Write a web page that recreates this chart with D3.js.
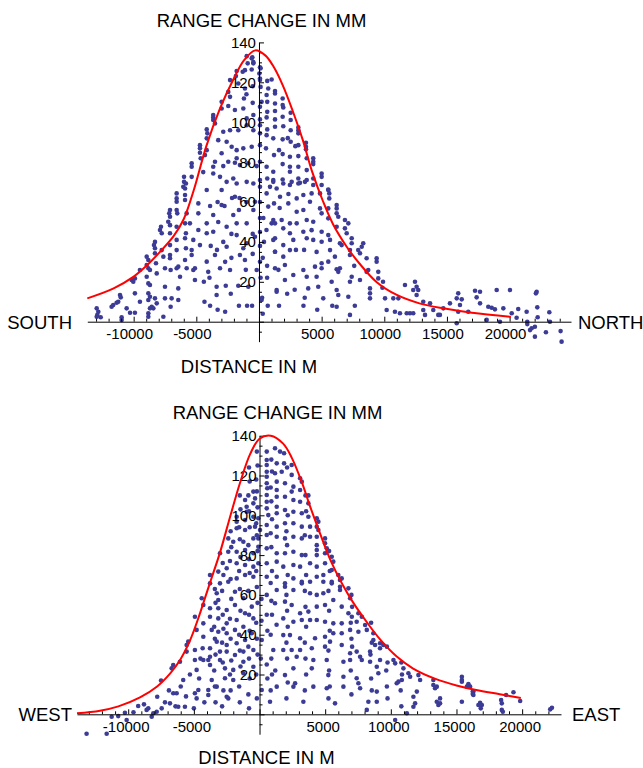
<!DOCTYPE html>
<html>
<head>
<meta charset="utf-8">
<script src="https://cdn.jsdelivr.net/npm/d3@7"></script>
<style>
body { margin: 0; background: #fff; }
svg { display: block; font-family: 'Liberation Sans', Arial, Helvetica, sans-serif; }
</style>
</head>
<body>
<svg id="chart" width="643" height="768"></svg>
<script>
// tick labels
const xTickLabels = [-10000, -5000, 5000, 10000, 15000, 20000];
const yTickLabels = [20, 40, 60, 80, 100, 120, 140];

// north-south profile: measured points [distance m, range change mm]
const northSouthPoints = [
    [-12950,6.7],[-12820,5],[-12950,2.5],[-12630,2.2],[-12900,3.4],[-11630,8.4],[-11760,7.5],[-11360,9.5],[-11090,13.4],[-11030,12.2],[-11230,10],[-10960,2.2],[-10960,0.9],
    [-10560,6.7],[-10290,4.5],[-9900,4.5],[-10160,20.9],[-9900,21.7],[-10030,20],[-9900,14.2],[-9500,25.9],[-9500,10],[-8960,32.6],[-8830,30.9],
    [-8960,28.4],[-8830,26.8],[-8700,25.9],[-8960,22.5],[-8830,19.2],[-8700,18.4],[-8830,14.2],[-8700,12.5],[-8830,10.9],[-8560,7.5],[-8700,6.7],
    [-8830,4.2],[-8830,2.5],[-8300,40],[-8380,38.4],[-8300,36.8],[-8300,34.3],[-8220,29.3],[-8160,24.2],[-8300,11.7],[-8430,6.7],[-8160,9.2],
    [-7760,44.3],[-7900,46],[-7820,47.6],[-7760,35.9],[-7630,32.6],[-7500,26.8],[-7500,17.5],[-7500,11.7],[-7630,2.5],[-7100,56],[-7160,54.3],
    [-7100,52.6],[-7240,50.1],[-7100,48.4],[-7100,44.3],[-7100,38.4],[-7100,33.4],[-7100,31.8],[-7050,25.9],[-6970,11.7],[-7050,7.5],[-6570,64.3],
    [-6570,61.8],[-6570,60.1],[-6570,56],[-6520,54.3],[-6570,47.6],[-6570,41],[-6570,35.9],[-6440,27.6],[-6570,26.8],[-6300,22.5],[-6440,16.7],
    [-6440,10.9],[-5830,69.3],[-5900,66.8],[-5900,63.5],[-5900,61],[-5770,54.3],[-5900,49.3],[-5830,44.3],[-5900,41.8],[-5830,36.8],[-5900,30.9],
    [-5770,26.8],[-5110,26.8],[-5240,25.9],[-5110,20.9],[-5510,49.3],[-5240,41],[-5370,35.9],[-5370,33.4],[-4840,59.3],[-4840,54.3],[-4840,46],
    [-4710,38.4],[-4170,66],[-4170,49.3],[-4170,44.3],[-4170,30.1],[-4050,25],[-3650,53.5],[-3650,45.1],[-3510,33.4],[-3380,17.5],[-3380,13.4],
    [-2980,66],[-2980,58.5],[-2850,40],[-3110,26.8],[-2580,47.6],[-2580,37.6],[-2310,25.9],[-1920,62.6],[-2050,53.5],[-1780,49.3],[-1780,43.4],
    [-1520,33.4],[-1250,36.8],[-1120,30.9],[-980,39.3],[-980,49.3],[-850,17.5],[-450,56],[-320,60.1],[-320,42.6],[-180,25.9],[210,10.9],[610,64.3],
    [740,57.7],[1010,49.3],[1140,41],[1280,35.1],[1410,15.9],[80,60],[80,52],[80,45],[80,38],[80,30],[130,22],[650,22],[700,8],[-500,34],[400,40],
    [-980,133.1],[-530,132.5],[-900,129.5],[-450,130.1],[-580,126.4],[-1300,125.3],[-1780,125.7],[-1840,123.1],[-2310,121.1],[80,127.5],[30,124.4],
    [80,121.9],[-1650,119.4],[-2450,115.2],[-2310,112.7],[-1200,111.9],[-500,109.7],[-1250,106.9],[-1920,106.1],[-2450,108.1],[-2980,110.2],
    [-2980,106.9],[-3650,103.6],[-3650,102.4],[-3650,101.1],[-3510,99.4],[-4170,96.4],[-4120,94.4],[-4170,91.9],[-4710,88.5],[-4710,86.9],
    [-4710,84.7],[-4650,81.9],[-5370,79.4],[-5370,77.7],[-5370,72.6],[-5980,72.6],[-5980,70.1],[-6040,67.6],[-2180,87.7],[-1780,86],[-1250,86.9],
    [-580,87.7],[-1780,81.9],[-1920,79.7],[-1520,78.5],[-850,79.4],[-180,78],[-2450,80.2],[-2850,78],[-3510,80.2],[-3650,77.7],[-3650,74.3],
    [-3110,72.6],[-2580,70.1],[-2050,71.8],[-1780,69.3],[-980,70.1],[-450,69.3],[80,67.6],[-4310,83.5],[-4170,86],[-2980,84.4],[-2310,96],
    [-1650,96],[-980,98.5],[-2850,95.2],[-3250,91],[-2580,90.2],[-450,103.6],[-980,101.9],
    [-580,132],[-450,129.5],[130,127],[660,120.7],[1010,121.4],[80,121.1],[130,117.7],[740,116.9],[1280,115.6],[1280,114.4],[610,113.6],[210,110.2],
    [80,107.7],[660,110.2],[1280,109.4],[1890,111.9],[1890,108.6],[1940,107.4],[2530,104.7],[1280,105.6],[660,105.2],[80,101.4],[610,102.4],
    [1280,101.4],[1890,102.7],[2530,101.1],[80,98.5],[660,96.4],[1280,97.7],[1940,98],[2530,96],[3140,97.4],[3140,96],[3140,94.4],[80,94.4],
    [610,93.5],[1140,91.9],[1890,91.4],[2530,90.2],[3140,88.5],[3750,89.7],[3750,87.7],[3750,86.4],[80,88.5],[560,86.9],[1200,83.5],[1890,84],
    [2470,82.7],[3140,83],[3810,81.9],[4330,81.9],[4330,80.2],[4330,79],[80,80.2],[610,77.7],[1140,75.2],[1890,79],[2470,77.7],[3140,77.7],
    [3810,76],[5000,74.3],[5000,72.6],[4330,71.8],[3810,71],[3140,71.8],[2470,75.2],[2470,68.5],[1890,71.3],[1140,71],[660,71.8],[80,71],
    [880,67.6],[3270,69.6],[5530,66.3],[-1120,126.1],[-1120,116.9],
    [1140,70.1],[1410,66.8],[1940,69.3],[2610,70.1],[3140,69.3],[3670,70.1],[4330,68.5],[5000,68.5],[5530,66],[5610,64.3],[5610,61.8],[6200,58.5],
    [6200,56.8],[6200,54.3],[6330,52.6],[7130,49.3],[6860,46.8],[7000,44.3],[7400,41.8],[7400,39.3],[8320,39.3],[8200,37.6],[7260,35.9],[7260,33.4],
    [7920,35.9],[8590,31.8],[8060,34.3],[9390,31.8],[9390,30.1],[8720,25.9],[8590,25],[9520,25],[9520,21.7],[8860,16.7],[8860,11.7],[8060,20.9],
    [7400,22.5],[7260,20],[6460,26.8],[6200,26.3],[6330,25],[6060,32.6],[5670,35.9],[5530,30.1],[5000,29.3],[5000,26.8],[4470,27.6],[4600,22.5],
    [3540,25.9],[3810,22.5],[2070,28.4],[2070,20.9],[1410,15],[2740,23.4],[2470,35.9],[1280,35.1],[1940,32.6],[1280,26.8],[1140,51],[1280,41.8],
    [1940,38.4],[1940,46.8],[2470,44.3],[3010,49.3],[3540,45.1],[4200,45.9],[5000,45.1],[5530,43.4],[5670,41],[5000,40.1],[4330,41],[3810,41.8],
    [2740,41],[3010,55.1],[3540,56],[3810,51],[4330,50.1],[5000,54.3],[4870,56.8],[5530,56.8],[4070,60.1],[3540,63.5],[3010,61.8],[2340,59.3],
    [1680,62.6],[1200,59.3],[2470,49.3],[1280,49.3],[1810,51],[4200,64.3],[4870,64.3],[5530,51.8],[6200,47.6],[6860,51],[6460,39.3],[6600,38.4],
    [3930,16.7],[4730,17.5],[5130,11.7],[6200,15.9],[6330,13.4],[7130,12.5],[7260,3.4],[6200,7.5],[8860,14.2],[10060,11.7],[10190,5.9],[10720,11.7],
    [11120,11.7],[10850,5],[11250,4.2],[11650,18.4],[11790,4.2],[12050,4.2],[12310,4.2],[12310,15.9],[12450,20],[12580,17.5],[12710,15.9],
    [12580,13.4],[13110,10],[13110,5.9],[13250,3.4],[13650,9.2],[13910,5.9],[14310,3.4],[14710,6.7],[15240,9.2],[15900,14.2],[15780,11.7],
    [16180,11.2],[16040,8.4],[15780,-0.8],[16700,5],
    [14440,3.4],[17240,15.5],[17370,12.2],[17640,15],[17640,9.2],[15900,5],[18170,0.9],[18300,7.5],[18570,7],[18830,6.2],[18970,15.9],[19230,0],
    [19500,6.7],[20030,15.9],[20170,4.2],[20690,6.4],[20560,2],[21360,5],[21410,0],[21410,-1.2],[21630,-4.2],[21760,-3.3],[22020,-2.5],[22020,-7.5],
    [22160,15],[22100,14.2],[22210,7.2],[22240,2.2],[22900,-5.3],[23170,4.7],[23220,0],[24070,-4.7],[24150,-10],
    [-4400,20],[-4350,10],[-4450,75],[-3900,58],[-3850,38],[-3950,22],[-3900,8],[-3300,60],[-3250,50],[-3350,36],[-3300,6],[-2700,30],[-2750,58],
    [-2650,18],[-2700,5],[-2200,44],[-2250,14],[-2150,62],[-2200,32],[-1600,56],[-1650,18],[-1550,62],[-1600,8],[-1000,60],[-1050,26],[-950,8],
    [-1000,114],[-500,44],[-550,8],[-450,96],[-500,118],[300,32],[350,52],[250,12],[300,4],[600,46],[650,28],[1600,86],[1650,57],[1550,26],
    [1600,8],[2300,92],[2350,64],[2250,14],[2900,88],[2950,36],[2850,16],[3600,36],[3650,12],[3550,8],[4600,35],[4650,6],[5800,20],[5850,8],
    [7600,28],[7650,8],[9900,20],[9850,17]
];

// north-south fitted curve
const northSouthCurve = [
    [-13700,11.7],[-11600,16.7],[-10000,22.6],[-9000,27.9],[-7900,35],[-6800,43],[-6000,51.5],[-5200,66],[-4200,88],[-3100,107],
    [-2000,122],[-1200,131],[-300,136],[500,133.5],[1100,128.5],[1900,118.5],[2700,105.5],[3500,91],[4200,76],[5100,60.5],[5900,49],[7000,37.6],
    [8000,29.3],[9400,19.8],[11000,13.4],[12800,9.2],[14700,6.7],[17000,4.5],[20100,2.5]
];

// west-east profile: measured points [distance m, range change mm]
const westEastPoints = [
    [-13170,-9.8],[-11640,-9.8],[-11260,-1.2],[-10760,-0.9],[-10120,-2.9],[-10250,0.8],[-9240,4.2],[-8600,2.2],[-8470,3],[-8210,-1.2],[-8090,0.5],
    [-7830,1.3],[-7790,8.8],[-7450,3],[-6820,5.5],[-6570,10.6],[-6310,10.6],[-6690,23.1],[-6570,24.8],[-6190,3.8],[-6060,26.4],[-5810,17.2],
    [-5680,3.8],[-5550,31.5],[-5430,36.5],[-5550,34.8],[-4920,27.3],[-4790,22.3],[-4920,32.3],[-4920,49],[-4790,42.4],[-4790,8],[-4920,10.6],
    [-4660,12.2],[-4400,58.3],[-4280,54.9],[-4280,45.7],[-4280,39],[-4330,33.2],[-4280,27.3],[-3900,27.3],[-3770,33.2],[-3770,28.9],[-3770,24.8],
    [-3900,12.2],[-3900,9.7],[-3640,17.2],[-3260,13.9],[-3770,53.3],[-3770,49],[-3640,42.4],[-3260,60.8],[-3140,57.4],[-3140,53.3],[-3140,48.2],
    [-3140,41.5],[-3260,36.5],[-3010,31.5],[-3010,27.3],[-2500,52.4],[-2500,45.7],[-2500,40.7],[-2500,34.8],[-2500,31.5],[-2630,23.1],[-2630,18.1],
    [-2500,8.8],[-2380,8],[-1870,61.6],[-1870,54.9],[-1740,47.4],[-1870,42.4],[-1740,35.7],[-1870,29.8],[-2000,22.3],[-2000,17.2],[-1230,58.3],
    [-1100,50.8],[-1230,44],[-1100,37.3],[-1230,31.5],[-1230,26.4],[-1230,20.6],[-590,54.1],[-470,48.2],[-590,40.7],[-470,32.3],[-470,23.9],
    [170,12.2],[170,37.3],[800,6.3],[1050,32.3],[1310,13.9],[1180,55.8],[1310,62.5],[550,60],[550,50],[600,42],[550,25],[1300,45],[1200,22],
    [600,18],[150,58],[150,47],[100,28],
    [550,132],[1180,133.7],[1560,132],[1870,131.2],[550,127.8],[550,125.3],[1310,126.1],[1870,126.1],[2450,125.3],[550,121.9],[550,119.4],
    [1180,121.1],[1690,121.9],[2450,120.3],[3090,118.6],[3220,116.9],[550,116.1],[590,113.6],[1310,116.9],[1310,112.7],[1940,116.1],[2580,114.4],
    [2450,111.9],[3090,112.7],[3720,110],[-470,111.9],[-340,108.5],[-470,106],[550,110.2],[550,106.8],[1310,109.3],[1940,109.3],[2580,107.7],
    [3090,106.8],[3720,106],[-1100,107.7],[-980,104.3],[-980,101.8],[-1740,99.3],[-1740,96.8],[-1100,97.6],[-470,99.3],[-90,98.5],[550,103.5],
    [670,100.1],[1310,104.3],[1310,101],[1940,102.7],[2580,101.8],[3220,101],[3720,99.3],[-1740,93.5],[-1100,92.6],[-340,94.3],[40,92.6],
    [550,95.1],[1310,94.3],[1940,96],[2580,96],[3220,94.3],[3850,94.3],[-2380,88.4],[-2000,86.7],[-1230,86.7],[-470,88.4],[-90,88.4],[550,90.1],
    [1310,89.2],[1940,88.4],[2580,89.2],[3220,88.4],[3850,89.2],[-3010,80.9],[-2380,81.7],[-1740,81.7],[-1100,82.6],[-470,80.9],[-90,84.2],
    [550,83.4],[1310,80.9],[1940,80.9],[2580,81.7],[3220,80],[-3770,70],[-3140,71.7],[-2500,73.4],[-1740,75.9],[-1100,75],[-470,74.2],[-90,75.9],
    [550,75.9],[1310,76.7],[1810,74.2],[2580,75],[3090,74.2],[3850,75.9],[-3770,65.8],[-3010,65.8],[-2380,66.6],[-1740,68.3],[-1100,70],[-470,69.1],
    [550,69.1],[1310,69.1],[1940,65.8],[2580,68.3],[3220,65.8],[3850,66.6],
    [4360,98.5],[4480,96.8],[4360,94.3],[4480,92.6],[4360,89.2],[4990,88.4],[4990,85.9],[5120,83.4],[4360,85],[4360,82.6],[4360,80],[4990,80.9],
    [5500,79.2],[5620,76.7],[4360,74.2],[4990,75.9],[5500,72.5],[6000,70],[6130,67.5],[4360,69.1],[4860,70],[4860,66.6],[5500,65.8],[6130,64.1],
    [6260,68.3],
    [1940,64.1],[2580,62.5],[3220,66.6],[3850,60.8],[4360,60],[4860,60.8],[5500,66.6],[6130,62.5],[6770,63.3],[6900,58.3],[6260,54.1],[5620,57.4],
    [4990,54.9],[4360,54.1],[3720,51.6],[3090,50.8],[2450,54.9],[1940,56.6],[1810,48.2],[2580,46.5],[3220,47.4],[3850,47.4],[4360,47.4],[4990,46.5],
    [5620,45.7],[6260,45.7],[6770,50.8],[7030,49],[7530,50.8],[7790,49],[7400,46.5],[6900,42.4],[6260,40.7],[5620,40.7],[4990,39],[4230,38.2],
    [3090,38.2],[1810,39.8],[2320,39.8],[7530,41.5],[8040,44.9],[8170,42.4],[8670,40.7],[8670,37.3],[8800,34.8],[9180,35.7],[9180,33.2],[9430,34.8],
    [8420,31.5],[7660,28.9],[6900,30.7],[6260,34.8],[5370,36.5],[4990,34],[3980,33.2],[3090,32.3],[2450,32.3],[1810,32.3],[2830,28.9],[4100,27.3],
    [5120,27.3],[6390,26.4],[6900,27.3],[7790,27.3],[8420,26.4],[9180,27.3],[8930,23.9],[10200,27.3],[10330,25.6],[10960,23.1],[11340,20.6],
    [11470,18.9],[10450,15.6],[10580,16.4],[10840,17.2],[12100,19.7],[12230,17.2],[13240,17.2],[13240,14.7],[13370,13.1],[13500,13.9],[15410,18.9],
    [15410,17.2],[15910,14.7],[16290,11.4],[16290,9.7],[16670,4.7],[1940,19.7],[2580,23.1],[2710,15.6],[2580,13.9],[3980,23.1],[4100,13.9],
    [5240,19.7],[5120,13.1],[6390,18.9],[6390,13.9],[7400,18.1],[7530,15.6],[7660,13.1],[8290,6.3],[8170,2.2],[8930,11.4],[8930,6.3],[7400,31.5],
    [9050,20.6],[5750,5.5],[3340,6.3],[10330,-2.9],[11220,0.5],[11720,8.8],[11850,5.5],[11720,3.8],[11980,11.4],[13620,4.7],[13500,6.3],[15410,6.3],
    [15790,13.9],
    [13750,5.5],[13750,8],[15410,16.4],[15910,15.2],[16040,13.9],[16240,11.4],[16240,10.2],[16800,5.8],[16930,4.7],[16850,3],[18400,7.2],
    [18450,5.5],[18450,2.2],[18530,1.3],[18780,9.7],[19340,11.1],[19850,6.7],[22140,2.5],[22270,3.3],
    [-3400,63],[-3350,56],[-3450,44],[-3400,38],[-3350,30],[-3450,22],[-3400,14],[-3350,6],
    [-2800,76],[-2750,70],[-2850,62],[-2800,50],[-2750,43],[-2850,36],[-2800,26],[-2750,12],[-2850,4],
    [-2200,92],[-2150,84],[-2250,77],[-2200,68],[-2150,58],[-2250,48],[-2200,38],[-2150,27],[-2250,20],[-2200,12],
    [-1500,110],[-1450,103],[-1550,94],[-1500,88],[-1450,79],[-1550,72],[-1500,63],[-1450,52],[-1550,40],[-1500,32],[-1450,24],[-1550,14],[-1500,6],
    [-800,124],[-750,117],[-850,110],[-800,102],[-750,94],[-850,85],[-800,78],[-750,71],[-850,62],[-800,50],[-750,42],[-850,34],[-800,28],[-750,18],[-850,10],[-800,3],
    [-200,132],[-150,125],[-250,118],[-200,112],[-150,104],[-250,96],[-200,90],[-150,82],[-250,72],[-200,64],[-150,56],[-250,46],[-200,38],[-150,30],[-250,20],[-200,8],
    [900,128],[950,122],[850,114],[900,107],[950,98],[850,91],[900,84],[950,72],[850,66],[900,57],[950,50],[850,40],[900,28],[950,20],[850,12],
    [2100,124],[2150,100],[2050,92],[2100,85],[2150,70],[2050,60],[2100,52],[2150,44],[2050,36],[2100,28],[2150,16],[2050,8],
    [3500,110],[3550,102],[3450,90],[3500,80],[3550,70],[3450,62],[3500,54],[3550,44],[3450,36],[3500,28],[3550,20],[3450,12],
    [5300,82],[5350,72],[5250,62],[5300,52],[5350,42],[5250,32],[5300,22],[5350,14],[5250,8],
    [7000,60],[7050,54],[6950,46],[7000,38],[7050,34],[6950,22],[7000,10],
    [8500,46],[8550,36],[8450,30],[8500,18],[8550,12],[9700,34],[9750,26],[9650,22],[9700,14],[9750,8],[10800,26],[10850,20],[10750,12],[10800,4],
    [-7200,6],[-6900,12],[-6400,4],[-6000,14],[-5600,9],[-5300,20],[-5000,3],[-4600,18],[-4500,28],[-4200,6],[-8800,5],[-9600,1],[-7500,17]
];

// west-east fitted curve
const westEastCurve = [
    [-13900,0.5],[-12150,1.8],[-10750,4],[-9100,8.5],[-7800,14],[-6800,20.6],[-6050,27.3],[-5300,37],[-4650,48.5],[-4150,58.5],[-3700,67.5],
    [-3000,81.5],[-2250,99],[-1500,116],[-700,131],[0,138.5],[850,140],[1800,136],[2450,129],[3200,117],[3850,104.5],[4600,91],[5400,77.5],
    [6300,65.5],[7100,56.5],[8150,46.5],[9200,37.5],[10450,29],[11700,23],[13400,17.8],[15000,14.5],[16500,12.2],[18300,10.1],[19900,8.2]
];

class ProfilePanel {
    constructor(config, points, curve) {
        this.config = {
            parent: config.parent,
            xDomain: config.xDomain,
            xRange: config.xRange,
            yDomain: config.yDomain,
            yRange: config.yRange,
            labelShift: config.labelShift || 0,
            yTitle: config.yTitle,
            xTitle: config.xTitle,
            leftLabel: config.leftLabel,
            rightLabel: config.rightLabel
        };
        this.points = points;
        this.curve = curve;
        this.init();
    }

    init() {
        let self = this;
        self.chart = d3.select(self.config.parent).append('g');
        self.xScale = d3.scaleLinear().domain(self.config.xDomain).range(self.config.xRange);
        self.yScale = d3.scaleLinear().domain(self.config.yDomain).range(self.config.yRange);
        self.line = d3.line()
            .x(d => self.xScale(d[0]))
            .y(d => self.yScale(d[1]))
            .curve(d3.curveCatmullRom.alpha(0.5));
        self.render();
    }

    render() {
        let self = this;
        const x0 = self.xScale(0), y0 = self.yScale(0);

        // dots
        self.chart.append('g')
            .selectAll('circle')
            .data(self.points)
            .join('circle')
            .attr('cx', d => self.xScale(d[0]))
            .attr('cy', d => self.yScale(d[1]))
            .attr('r', 2.3)
            .attr('fill', '#3c3c96');

        // x axis: line + ticks pointing up, minor every 1000
        const xAxis = d3.axisBottom(self.xScale)
            .tickValues(d3.range(Math.ceil(self.config.xDomain[0] / 1000) * 1000, self.config.xDomain[1], 1000))
            .tickSizeInner(-3)
            .tickSizeOuter(0)
            .tickFormat('');
        const gx = self.chart.append('g')
            .attr('transform', `translate(0,${y0})`)
            .call(xAxis);
        gx.selectAll('.tick line').attr('y2', d => d % 5000 === 0 ? -5 : -3);
        gx.select('.domain').attr('stroke', '#000');
        gx.selectAll('line').attr('stroke', '#000');

        self.chart.append('g')
            .selectAll('text')
            .data(xTickLabels)
            .join('text')
            .attr('x', d => self.xScale(d) + self.config.labelShift)
            .attr('y', y0 + 17.5)
            .attr('text-anchor', 'middle')
            .attr('font-size', '15px')
            .text(d => d < 0 ? '-' + Math.abs(d) : d);

        // y axis
        const yAxis = d3.axisLeft(self.yScale)
            .tickValues(d3.range(-5, 141, 5))
            .tickSizeInner(-3)
            .tickSizeOuter(0)
            .tickFormat('');
        const gy = self.chart.append('g')
            .attr('transform', `translate(${x0},0)`)
            .call(yAxis);
        gy.selectAll('.tick line').attr('x2', d => d % 20 === 0 ? 5 : 3);
        gy.select('.domain').attr('stroke', '#000');
        gy.selectAll('line').attr('stroke', '#000');

        self.chart.append('g')
            .selectAll('text')
            .data(yTickLabels)
            .join('text')
            .attr('x', x0 - 3)
            .attr('y', d => self.yScale(d))
            .attr('dy', '0.36em')
            .attr('text-anchor', 'end')
            .attr('font-size', '15px')
            .text(d => d);

        // fitted curve
        self.chart.append('path')
            .datum(self.curve)
            .attr('d', self.line)
            .attr('fill', 'none')
            .attr('stroke', '#ff0000')
            .attr('stroke-width', 2);

        // titles
        const t = self.config;
        [t.yTitle, t.xTitle, t.leftLabel, t.rightLabel].forEach(lab => {
            self.chart.append('text')
                .attr('x', lab.x)
                .attr('y', lab.y)
                .attr('text-anchor', lab.anchor)
                .attr('font-size', '18.5px')
                .text(lab.text);
        });
    }
}

new ProfilePanel({
    parent: '#chart',
    xDomain: [-13700, 24900],
    xRange: [87.3, 571.0],
    yDomain: [-10, 140],
    yRange: [341.65, 42.4],
    labelShift: -4,
    yTitle: { text: 'RANGE CHANGE IN MM', x: 261.5, y: 27, anchor: 'middle' },
    xTitle: { text: 'DISTANCE IN M', x: 249, y: 373, anchor: 'middle' },
    leftLabel: { text: 'SOUTH', x: 72, y: 328.5, anchor: 'end' },
    rightLabel: { text: 'NORTH', x: 578, y: 328.5, anchor: 'start' }
}, northSouthPoints, northSouthCurve);

new ProfilePanel({
    parent: '#chart',
    xDomain: [-13900, 22960],
    xRange: [77.0, 561.0],
    yDomain: [-10, 140],
    yRange: [734.2, 435.7],
    labelShift: -2,
    yTitle: { text: 'RANGE CHANGE IN MM', x: 277.5, y: 419, anchor: 'middle' },
    xTitle: { text: 'DISTANCE IN M', x: 266.5, y: 763.5, anchor: 'middle' },
    leftLabel: { text: 'WEST', x: 72, y: 721, anchor: 'end' },
    rightLabel: { text: 'EAST', x: 572, y: 721, anchor: 'start' }
}, westEastPoints, westEastCurve);
</script>
</body>
</html>
